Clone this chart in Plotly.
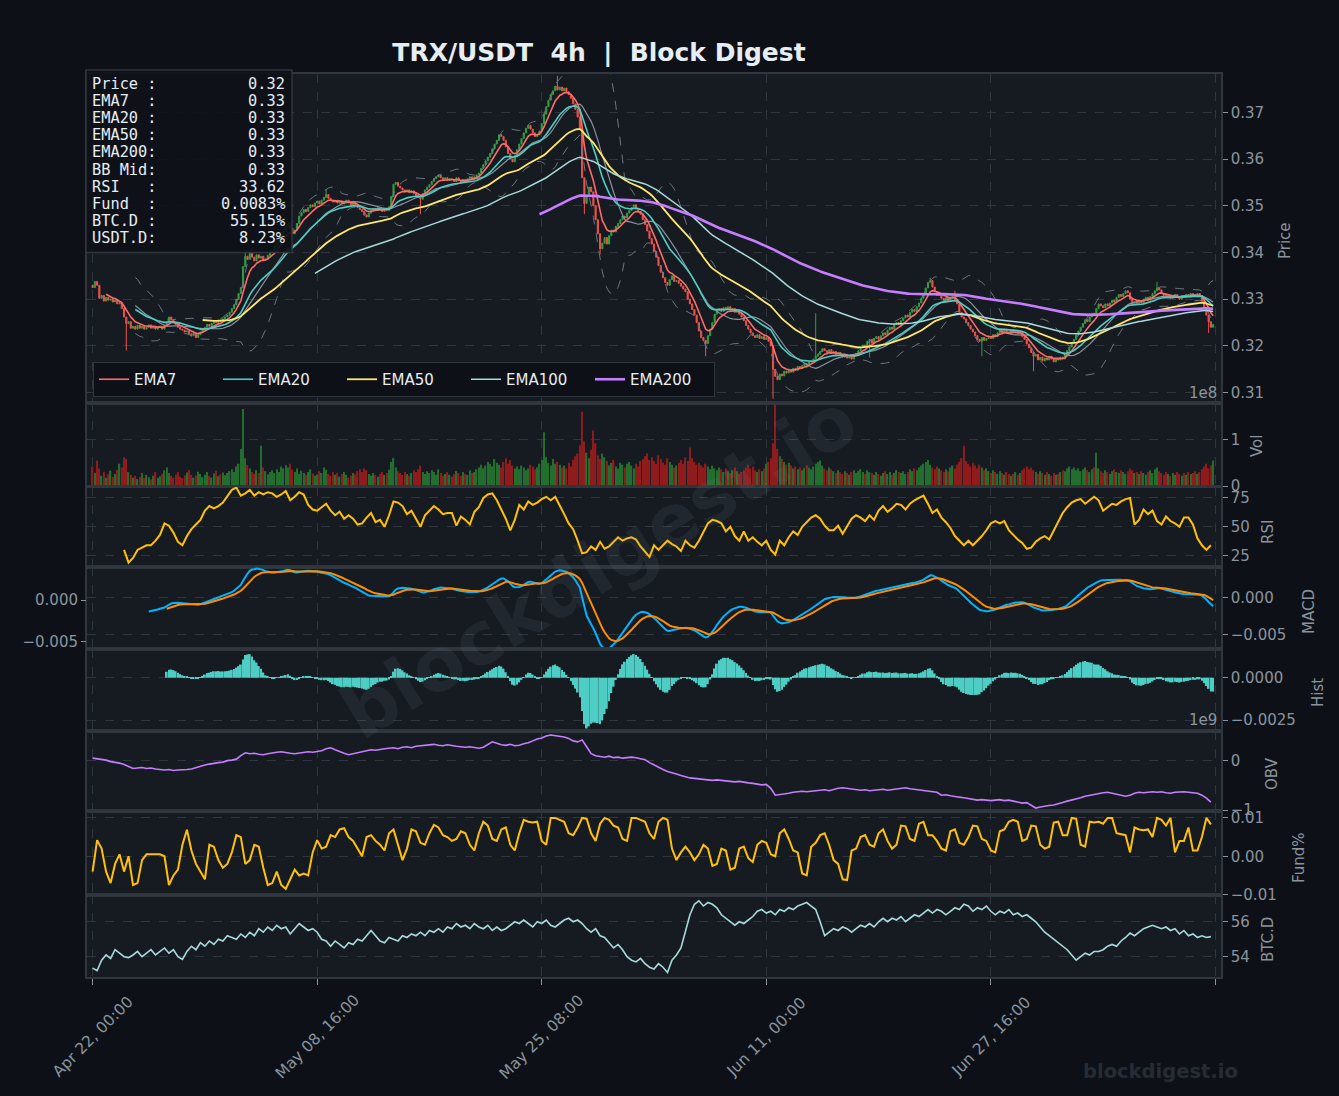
import numpy as np
import pandas as pd
import plotly.graph_objects as go

# ---------------- DATA ----------------
close_e4 = [
3325,3338,3330,3302,3308,3296,3304,3298,3300,3294,
3298,3290,3292,3280,3262,3248,3252,3238,3242,3236,
3244,3238,3242,3236,3240,3245,3238,3242,3236,3240,
3242,3236,3244,3252,3262,3256,3250,3246,3240,3236,
3234,3230,3232,3226,3222,3228,3218,3224,3230,3236,
3240,3246,3242,3248,3252,3250,3255,3252,3258,3262,
3266,3272,3280,3288,3300,3312,3325,3370,3392,3385,
3398,3390,3382,3395,3388,3392,3384,3386,3394,3400,
3405,3412,3422,3430,3438,3446,3455,3462,3452,3440,
3448,3462,3478,3485,3492,3488,3496,3502,3498,3506,
3510,3504,3512,3518,3524,3516,3512,3508,3512,3506,
3510,3504,3508,3512,3506,3502,3508,3500,3496,3492,
3488,3480,3476,3484,3490,3494,3490,3496,3492,3488,
3494,3490,3498,3520,3546,3550,3542,3538,3534,3530,
3534,3528,3532,3526,3522,3518,3514,3526,3534,3540,
3545,3552,3558,3562,3566,3560,3556,3560,3554,3558,
3556,3552,3560,3554,3550,3556,3552,3558,3562,3558,
3562,3566,3570,3580,3588,3596,3604,3612,3622,3632,
3640,3652,3648,3640,3626,3612,3600,3594,3606,3620,
3632,3644,3656,3666,3672,3664,3656,3648,3652,3660,
3676,3696,3712,3726,3738,3746,3756,3748,3754,3746,
3752,3744,3738,3730,3718,3706,3690,3665,3560,3505,
3520,3540,3530,3500,3470,3440,3408,3420,3432,3418,
3436,3448,3444,3456,3462,3470,3478,3474,3484,3490,
3496,3502,3494,3488,3482,3470,3460,3446,3430,3418,
3402,3390,3372,3358,3346,3336,3330,3342,3350,3338,
3340,3334,3328,3322,3316,3300,3290,3278,3266,3250,
3232,3218,3212,3205,3222,3236,3250,3268,3276,3280,
3274,3282,3278,3284,3276,3280,3272,3276,3268,3262,
3254,3244,3236,3228,3222,3218,3224,3216,3220,3214,
3218,3210,3200,3150,3135,3128,3140,3136,3146,3142,
3148,3144,3152,3148,3156,3152,3158,3162,3158,3166,
3168,3172,3178,3182,3188,3194,3190,3186,3192,3184,
3188,3182,3186,3180,3176,3182,3174,3178,3172,3180,
3184,3190,3196,3202,3198,3210,3214,3206,3216,3220,
3214,3222,3228,3224,3234,3240,3236,3246,3250,3246,
3254,3260,3266,3262,3272,3278,3274,3284,3292,3302,
3312,3324,3336,3340,3326,3316,3308,3312,3302,3298,
3304,3296,3302,3306,3298,3290,3272,3262,3258,3250,
3244,3236,3230,3222,3214,3210,3218,3212,3216,3220,
3216,3224,3220,3228,3234,3228,3236,3230,3226,3234,
3228,3232,3226,3228,3220,3214,3204,3196,3186,3178,
3182,3170,3176,3168,3174,3170,3178,3172,3166,3174,
3170,3176,3172,3180,3190,3198,3206,3214,3224,3232,
3240,3248,3256,3252,3262,3270,3266,3280,3290,3286,
3282,3290,3286,3292,3298,3294,3304,3310,3306,3312,
3318,3314,3300,3288,3294,3290,3296,3292,3300,3304,
3298,3306,3312,3318,3324,3320,3312,3308,3304,3308,
3302,3306,3310,3304,3300,3308,3304,3310,3306,3312,
3310,3306,3312,3308,3296,3280,3266,3252,3240,3246]
first_open_e4 = 3330
wick_hi_e4 = {68: 3404, 104: 3536, 207: 3778, 322: 3270, 373: 3346, 384: 3318, 474: 3337}
wick_lo_e4 = {15: 3190, 146: 3482, 219: 3482, 226: 3396, 273: 3178, 303: 3087,
              346: 3175, 396: 3178, 419: 3146, 497: 3228}

vol_e6 = [
42,28,55,38,22,30,18,25,33,20, 26,35,48,40,62,58,30,24,18,22,
15,20,28,17,24,19,14,22,30,18, 21,26,34,40,28,22,18,25,30,20,
17,23,29,35,24,18,22,31,26,19, 24,30,22,18,27,33,21,25,29,23,
28,32,36,30,42,48,80,166,60,45, 38,30,26,34,28,87,40,32,25,30,
34,28,36,30,42,38,45,40,48,35, 30,38,26,33,28,24,30,36,27,22,
25,32,28,40,35,26,22,30,24,28, 20,26,30,24,18,22,28,25,32,36,
30,38,34,26,22,28,24,20,26,30, 24,28,35,52,60,40,32,28,24,30,
26,22,28,34,30,36,44,30,26,32, 28,34,30,24,36,28,22,26,30,24,
20,26,32,28,22,30,26,24,34,28, 30,36,40,46,38,44,52,48,42,58,
50,46,40,52,60,48,56,44,38,42, 36,44,40,34,38,46,42,36,40,48,
56,116,62,50,44,58,48,52,46,40, 44,38,50,42,56,64,70,88,160,96,
72,60,78,120,92,66,58,70,62,54, 44,50,56,42,38,50,46,40,48,52,
44,38,48,42,54,58,64,70,56,62, 54,48,66,58,50,46,60,52,46,40,
44,50,56,48,62,54,83,60,52,46, 50,44,40,48,42,36,44,38,34,40,
36,30,38,32,28,34,40,32,26,30, 34,40,46,38,42,34,30,36,32,38,
48,52,60,92,175,80,64,58,52,46, 50,44,38,42,36,40,34,38,44,40,
36,42,48,52,55,44,38,34,40,36, 32,28,34,30,26,32,28,24,30,34,
28,32,36,30,26,34,30,28,24,30, 26,22,28,32,26,30,24,28,34,30,
28,32,26,30,36,32,38,34,40,44, 48,52,56,46,40,36,42,38,34,30,
36,32,40,44,38,46,52,60,87,54, 48,42,50,44,38,46,40,34,38,32,
28,34,30,26,32,28,24,30,26,22, 26,30,24,28,34,38,42,36,40,34,
30,26,32,28,24,30,26,22,28,24, 26,30,34,32,38,42,36,40,34,38,
32,36,40,34,30,36,40,72,38,32, 28,34,30,26,32,36,30,28,34,30,
26,32,38,34,28,30,26,32,28,24, 30,34,28,36,40,32,28,24,30,26,
22,28,24,30,26,22,28,24,30,26, 28,32,26,30,36,42,48,38,44,55]

# RSI, every second bar starting at bar 14
rsi_vals = [
30,19,23,30,32,34,34,38,43,53, 51,45,37,34,42,48,52,56,64,68,
66,68,71,76,82,84,77,79,82,77, 80,78,80,79,76,78,81,73,76,80,
78,69,65,64,67,70,64,60,63,57, 60,57,52,53,58,62,54,56,50,60,
72,71,68,61,64,57,50,60,64,68, 65,61,62,62,51,59,56,52,63,67,
75,78,79,73,65,57,47,56,69,65, 72,69,71,74,76,73,76,69,61,53,
48,38,27,28,33,30,37,31,33,37, 41,38,40,41,39,33,28,24,34,30,
34,38,35,33,29,38,34,32,38,45, 53,56,55,53,46,50,42,38,46,38,
41,37,34,38,30,26,38,34,41,46, 43,50,54,58,60,57,51,47,47,51,
44,50,57,60,58,55,60,56,64,68, 63,66,70,69,65,70,73,75,77,70,
62,65,58,54,49,42,38,34,38,34, 38,42,47,53,55,53,55,47,43,39,
36,31,32,37,40,42,39,47,55,62, 67,71,73,74,70,73,76,73,64,67,
70,69,72,74,75,52,56,65,61,64, 55,52,59,55,53,50,58,58,52,40,
34,30,34]
rsi_first_bar = 14

# 8h-sampled series (every second 4h bar)
obv_e7 = [
5,4,3,1,-2,-3,-5,-8,-12,-16, -15,-14,-16,-15,-17,-18,-19,-18,-20,-19,
-19,-18,-17,-14,-11,-9,-7,-5,-4,-3, 0,1,3,10,16,14,15,13,12,14,
16,17,18,16,15,14,15,16,18,17, 18,20,24,26,22,18,15,12,14,16,
18,20,22,21,23,24,25,26,24,27, 28,26,29,30,31,32,33,31,30,32,
30,29,28,27,28,26,25,27,32,38, 35,32,31,33,30,31,34,36,40,44,
46,50,52,51,49,48,45,40,38,42, 28,14,10,8,7,9,6,7,5,6,
7,6,4,2,-4,-9,-14,-18,-22,-24, -27,-30,-33,-35,-36,-37,-38,-39,-40,-39,
-40,-41,-42,-43,-42,-44,-45,-46,-47,-49, -48,-56,-70,-69,-67,-66,-64,-63,-62,-63,
-62,-61,-60,-59,-61,-58,-56,-55,-56,-57, -58,-60,-59,-61,-60,-59,-58,-60,-59,-57,
-56,-55,-57,-58,-59,-60,-61,-62,-64,-70, -69,-71,-73,-74,-75,-77,-78,-80,-79,-80,
-81,-80,-79,-81,-80,-82,-84,-86,-85,-90, -96,-94,-92,-91,-90,-88,-85,-82,-80,-78,
-75,-72,-70,-68,-66,-65,-64,-66,-68,-70, -72,-70,-66,-64,-65,-64,-63,-64,-63,-65,
-66,-64,-63,-63,-64,-65,-66,-70,-76,-84]

fund_e4 = [
-40,42,20,-40,-70,-20,5,-40,0,-75, -70,-10,5,5,5,5,0,-75,-50,-35,
30,69,15,-20,-40,-60,30,25,-10,-30, -20,10,55,50,-20,-10,30,25,-30,-75,
-70,-40,-75,-85,-60,-35,-50,-45,-50,10, 42,20,25,55,50,70,73,50,40,20,
0,50,55,40,30,15,60,70,30,-10, 20,70,65,35,30,60,82,75,55,50,
40,45,65,60,30,15,60,90,80,45, 40,70,75,30,15,60,95,90,88,90,
40,30,100,100,95,90,60,55,75,100, 98,60,40,85,100,95,80,75,45,40,
100,100,95,90,60,45,90,100,95,20, -10,10,25,10,-10,5,30,20,-25,-20,
20,15,-35,-30,20,25,-5,-15,30,40, 35,5,0,60,70,45,15,10,-45,-50,
25,35,55,60,30,-10,-20,-60,-62,15, 20,50,55,30,25,60,70,40,20,30,
80,78,45,40,85,90,55,55,40,20, 15,65,70,35,30,50,80,78,45,40,
15,10,65,70,90,95,90,40,45,80, 78,30,20,25,88,90,55,55,100,98,
30,25,90,88,90,85,100,100,60,58, 55,10,75,70,68,70,50,100,95,80,
100,10,40,40,75,15,15,50,100,83]

btcd_e2 = [
5335,5320,5380,5410,5390,5440,5420,5400,5395,5410, 5430,5400,5420,5440,5410,5430,5450,5420,5440,5400,
5385,5430,5460,5440,5480,5460,5490,5470,5500,5490, 5520,5510,5500,5530,5510,5540,5520,5560,5540,5570,
5550,5580,5560,5570,5530,5560,5590,5570,5550,5560, 5540,5500,5490,5460,5490,5470,5450,5480,5470,5500,
5490,5520,5550,5520,5490,5480,5510,5500,5490,5520, 5510,5530,5520,5540,5520,5550,5540,5560,5540,5570,
5560,5590,5570,5580,5560,5590,5570,5560,5580,5550, 5570,5550,5560,5580,5600,5590,5610,5590,5570,5600,
5590,5610,5580,5570,5590,5610,5620,5600,5610,5590, 5560,5540,5560,5520,5510,5480,5450,5470,5440,5400,
5380,5370,5390,5360,5340,5330,5360,5340,5310,5380, 5410,5450,5550,5640,5700,5720,5690,5710,5700,5680,
5640,5620,5600,5580,5600,5590,5610,5630,5660,5670, 5650,5660,5640,5670,5660,5680,5670,5690,5700,5710,
5690,5670,5600,5520,5540,5560,5550,5570,5560,5540, 5560,5580,5570,5590,5570,5600,5620,5600,5620,5610,
5630,5600,5620,5640,5630,5650,5670,5650,5670,5660, 5640,5660,5680,5670,5700,5690,5660,5680,5670,5690,
5660,5640,5660,5650,5670,5640,5650,5630,5640,5620, 5600,5570,5540,5520,5500,5480,5460,5440,5410,5380,
5400,5420,5410,5430,5430,5440,5460,5470,5460,5490, 5510,5535,5520,5540,5560,5570,5580,5570,5560,5570,
5550,5560,5530,5550,5520,5530,5510,5520,5510,5515]

tick_bars = [0, 100, 200, 300, 400, 500]
tick_text = ["Apr 22, 00:00", "May 08, 16:00", "May 25, 08:00", "Jun 11, 00:00", "Jun 27, 16:00", ""]

info_labels = ["Price :", "EMA7  :", "EMA20 :", "EMA50 :", "EMA200:", "BB Mid:",
               "RSI   :", "Fund  :", "BTC.D :", "USDT.D:"]
info_values = ["0.32", "0.33", "0.33", "0.33", "0.33", "0.33", "33.62", "0.0083%", "55.15%", "8.23%"]

# ---------------- derived series ----------------
n = len(close_e4)
x = np.arange(n)
close = pd.Series(np.array(close_e4, dtype=float) / 1e4)
opn = close.shift(1)
opn.iloc[0] = first_open_e4 / 1e4
high = np.maximum(opn.values, close.values)
low = np.minimum(opn.values, close.values)
for k, v in wick_hi_e4.items():
    high[k] = v / 1e4
for k, v in wick_lo_e4.items():
    low[k] = v / 1e4
up = close.values >= opn.values

def ema(s, span):
    return s.ewm(span=span, adjust=False, min_periods=span).mean()

ema7, ema20, ema50, ema100, ema200 = (ema(close, s) for s in (7, 20, 50, 100, 200))
bb_mid = close.rolling(20).mean()
bb_std = close.rolling(20).std(ddof=0)
bb_up = bb_mid + 2 * bb_std
bb_lo = bb_mid - 2 * bb_std

macd = ema(close, 12) - ema(close, 26)
signal = macd.ewm(span=9, adjust=False, min_periods=9).mean()
hist = macd - signal

vol = np.array(vol_e6, dtype=float) * 1e6
x8 = np.arange(0, n, 2)
x_rsi = rsi_first_bar + 2 * np.arange(len(rsi_vals))
obv = np.array(obv_e7, dtype=float) * 1e7
fund = np.array(fund_e4, dtype=float) / 1e4
btcd = np.array(btcd_e2, dtype=float) / 100

# ---------------- styling ----------------
BG = "#0d1117"
PANEL = "#161b22"
GRID = "#30363d"
TXT = "#8b949e"
WHITE = "#e6edf3"
UPC = "#2ea043"
DNC = "#f0524a"

W, H = 1339, 1096
L, R, T, B = 87, 1221, 74, 977

def px(xp):
    return (xp - L) / (R - L)

def py(yp):
    return (B - yp) / (B - T)

panels = [(74, 402.5), (403, 486), (487, 567), (567, 649), (649, 731), (731, 811), (811, 895), (895, 977)]

fig = go.Figure()

def ax(i):
    return ("x" if i == 1 else f"x{i}"), ("y" if i == 1 else f"y{i}")

# Price
xa, ya = ax(1)
fig.add_trace(go.Candlestick(x=x, open=opn, high=high, low=low, close=close,
                             increasing=dict(line=dict(color=UPC, width=1), fillcolor=UPC),
                             decreasing=dict(line=dict(color=DNC, width=1), fillcolor=DNC),
                             whiskerwidth=0, showlegend=False, xaxis=xa, yaxis=ya, hoverinfo="skip"))
fig.add_trace(go.Scatter(x=x, y=bb_up, mode="lines", line=dict(color="#6e7681", width=1, dash="dash"),
                         showlegend=False, xaxis=xa, yaxis=ya))
fig.add_trace(go.Scatter(x=x, y=bb_lo, mode="lines", line=dict(color="#6e7681", width=1, dash="dash"),
                         showlegend=False, xaxis=xa, yaxis=ya))
fig.add_trace(go.Scatter(x=x, y=bb_mid, mode="lines", line=dict(color="#8b949e", width=1.2),
                         showlegend=False, xaxis=xa, yaxis=ya))
for s, name, col, w in [(ema7, "EMA7", "#ff6b6b", 1.6), (ema20, "EMA20", "#4ecdc4", 1.6),
                        (ema50, "EMA50", "#ffe66d", 1.8), (ema100, "EMA100", "#a8dadc", 1.5),
                        (ema200, "EMA200", "#c77dff", 2.6)]:
    fig.add_trace(go.Scatter(x=x, y=s, mode="lines", name=name, line=dict(color=col, width=w),
                             xaxis=xa, yaxis=ya))

# Volume
xa, ya = ax(2)
fig.add_trace(go.Bar(x=x, y=vol, width=0.6,
                     marker=dict(color=np.where(up, "#236e2e", "#8e1c1c"), line=dict(width=0)),
                     showlegend=False, xaxis=xa, yaxis=ya))
# RSI
xa, ya = ax(3)
fig.add_trace(go.Scatter(x=x_rsi, y=rsi_vals, mode="lines", line=dict(color="#ffc107", width=2),
                         showlegend=False, xaxis=xa, yaxis=ya))
# MACD
xa, ya = ax(4)
fig.add_trace(go.Scatter(x=x, y=macd, mode="lines", line=dict(color="#00b4ff", width=2),
                         showlegend=False, xaxis=xa, yaxis=ya))
fig.add_trace(go.Scatter(x=x, y=signal, mode="lines", line=dict(color="#ff8c00", width=2),
                         showlegend=False, xaxis=xa, yaxis=ya))
fig.add_trace(go.Scatter(x=[0], y=[0], mode="markers", marker=dict(opacity=0), hoverinfo="skip",
                         showlegend=False, xaxis=xa, yaxis="y9"))
# Hist
xa, ya = ax(5)
fig.add_trace(go.Bar(x=x, y=hist, width=0.8, marker=dict(color="#4ecdc4", line=dict(width=0)),
                     showlegend=False, xaxis=xa, yaxis=ya))
# OBV
xa, ya = ax(6)
fig.add_trace(go.Scatter(x=x8, y=obv, mode="lines", line=dict(color="#c77dff", width=1.6),
                         showlegend=False, xaxis=xa, yaxis=ya))
# Funding
xa, ya = ax(7)
fig.add_trace(go.Scatter(x=x8, y=fund, mode="lines", line=dict(color="#ffc107", width=2),
                         showlegend=False, xaxis=xa, yaxis=ya))
# BTC.D
xa, ya = ax(8)
fig.add_trace(go.Scatter(x=x8, y=btcd, mode="lines", line=dict(color="#a8dadc", width=1.6),
                         showlegend=False, xaxis=xa, yaxis=ya))

yspecs = [
    dict(range=[0.3079, 0.3782], tickvals=[0.31, 0.32, 0.33, 0.34, 0.35, 0.36, 0.37], tickformat=".2f"),
    dict(range=[0, 1.79e8], tickvals=[0, 1e8], ticktext=["0", "1"]),
    dict(range=[15.2, 84.5], tickvals=[25, 50, 75]),
    dict(range=[-0.00699, 0.0041], tickvals=[-0.005, 0], tickformat=".3f"),
    dict(range=[-0.00315, 0.0017], tickvals=[-0.0025, 0], tickformat=".4f"),
    dict(range=[-1.02e9, 0.6e9], tickvals=[-1e9, 0], ticktext=["\u22121", "0"]),
    dict(range=[-0.0101, 0.0118], tickvals=[-0.01, 0, 0.01], tickformat=".2f"),
    dict(range=[52.84, 57.53], tickvals=[54, 56]),
]

layout = dict(
    width=W, height=H, paper_bgcolor=BG, plot_bgcolor=PANEL,
    margin=dict(l=L, r=W - R, t=T, b=H - B, pad=0),
    font=dict(family="DejaVu Sans", color=TXT, size=15),
    showlegend=True, hovermode=False,
    legend=dict(orientation="h", x=px(93), xanchor="left", y=py(397), yanchor="bottom",
                bgcolor=BG, bordercolor=GRID, borderwidth=1, font=dict(size=15, color=WHITE),
                entrywidth=79, entrywidthmode="pixels", traceorder="normal"),
    title=dict(text="<b>TRX/USDT\u00a0\u00a04h\u00a0\u00a0|\u00a0\u00a0Block Digest</b>",
               x=px(599), xref="paper", xanchor="center", y=1 - 52 / H, yref="container", yanchor="middle",
               font=dict(size=25, color=WHITE, family="DejaVu Sans")),
)

for i, (top, bot) in enumerate(panels, start=1):
    key = "" if i == 1 else str(i)
    xd = dict(domain=[0, 1], anchor="y" + key, range=[-2.5, 502.5], tickmode="array",
              tickvals=tick_bars, ticktext=tick_text, showticklabels=False,
              ticks="outside" if i == 8 else "", ticklen=6, tickcolor=TXT, tickwidth=1,
              showgrid=True, gridcolor=GRID, griddash="dash", gridwidth=1,
              showline=True, linecolor=GRID, linewidth=1.5, mirror=True, zeroline=False)
    if i == 1:
        xd["rangeslider"] = dict(visible=False)
    else:
        xd["matches"] = "x"
    layout["xaxis" + key] = xd
    yd = dict(domain=[py(bot), py(top)], anchor="x" + key, side="right", tickmode="array",
              ticks="outside", ticklen=5, tickcolor=TXT, tickfont=dict(size=15, color=TXT),
              showgrid=True, gridcolor=GRID, griddash="dash", gridwidth=1,
              showline=True, linecolor=GRID, linewidth=1.5, mirror=True, zeroline=False)
    yd.update(yspecs[i - 1])
    layout["yaxis" + key] = yd

layout["yaxis9"] = dict(overlaying="y4", anchor="x4", side="left", range=[-0.00588, 0.00396],
                        tickmode="array", tickvals=[-0.005, 0], tickformat=".3f",
                        ticks="outside", ticklen=5, tickcolor=TXT, tickfont=dict(size=15, color=TXT),
                        showgrid=False, showline=False, zeroline=False)

fig.update_layout(**layout)

ann = []
# rotated date labels, centred under their ticks
for b, t in zip(tick_bars, tick_text):
    if t:
        ann.append(dict(text=t, x=b, xref="x8", y=py(1037), yref="paper", showarrow=False,
                        textangle=-45, xanchor="center", yanchor="middle",
                        font=dict(size=15.5, color=TXT)))
# axis labels on the right
for text, xp, yp in [("Price", 1285, 241), ("Vol", 1257, 446), ("RSI", 1268, 532), ("MACD", 1309, 612),
                     ("Hist", 1318, 693), ("OBV", 1272, 774), ("Fund%", 1299, 858), ("BTC.D", 1268, 940)]:
    ann.append(dict(text=text, x=px(xp), y=py(yp), xref="paper", yref="paper", showarrow=False,
                    textangle=-90, xanchor="center", yanchor="middle", font=dict(size=15, color=TXT)))
# offset texts
for text, yp in [("1e8", 393), ("1e9", 720)]:
    ann.append(dict(text=text, x=px(1219), y=py(yp), xref="paper", yref="paper", showarrow=False,
                    xanchor="right", yanchor="middle", font=dict(size=15, color=TXT)))
# info box lines
for j, (lab, val) in enumerate(zip(info_labels, info_values)):
    yc = 83.5 + 17.2 * j
    ann.append(dict(text=lab.replace(" ", "\u00a0"), x=px(89.5), y=py(yc), xref="paper", yref="paper",
                    showarrow=False, xanchor="left", yanchor="middle",
                    font=dict(family="DejaVu Sans Mono", size=15.3, color=WHITE)))
    ann.append(dict(text=val, x=px(287), y=py(yc), xref="paper", yref="paper",
                    showarrow=False, xanchor="right", yanchor="middle",
                    font=dict(family="DejaVu Sans Mono", size=15.3, color=WHITE)))
# watermarks
ann.append(dict(text="<b>blockdigest.io</b>", x=px(598), y=py(566), xref="paper", yref="paper",
                showarrow=False, textangle=-31.5, xanchor="center", yanchor="middle",
                font=dict(family="DejaVu Sans", size=74, color="rgba(139,148,158,0.10)")))
ann.append(dict(text="<b>blockdigest.io</b>", x=px(1160), y=py(1071), xref="paper", yref="paper",
                showarrow=False, xanchor="center", yanchor="middle",
                font=dict(family="DejaVu Sans", size=19.5, color="#262c34")))
fig.update_layout(annotations=ann)

fig.add_shape(type="rect", xref="paper", yref="paper", x0=px(86), x1=px(292), y0=py(252.5), y1=py(70),
              fillcolor="rgba(13,17,23,0.9)", line=dict(color=GRID, width=1.5), layer="above")

fig.write_html("out.html")
